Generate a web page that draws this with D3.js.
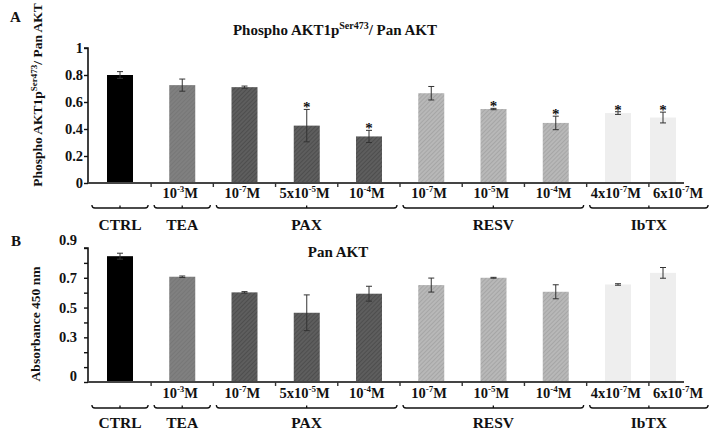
<!DOCTYPE html>
<html>
<head>
<meta charset="utf-8">
<script src="https://cdn.jsdelivr.net/npm/d3@7"></script>
<style>
  html, body { margin: 0; padding: 0; background: #fff; }
  svg text { font-family: "Liberation Serif", "Times New Roman", serif; font-weight: bold; fill: #111; }
</style>
</head>
<body>
<svg id="chart" width="724" height="438"></svg>
<script>
// ---------------- data ----------------
const categories = ["CTRL", "TEA 10-3M", "PAX 10-7M", "PAX 5x10-5M", "PAX 10-4M",
                    "RESV 10-7M", "RESV 10-5M", "RESV 10-4M", "IbTX 4x10-7M", "IbTX 6x10-7M"];
const groupOf = ["CTRL", "TEA", "PAX", "PAX", "PAX", "RESV", "RESV", "RESV", "IbTX", "IbTX"];
const groupNames = ["CTRL", "TEA", "PAX", "RESV", "IbTX"];
// dose labels: [base, superscript, suffix]
const doseLabels = [null, ["10", "-3", "M"], ["10", "-7", "M"], ["5x10", "-5", "M"], ["10", "-4", "M"],
                    ["10", "-7", "M"], ["10", "-5", "M"], ["10", "-4", "M"], ["4x10", "-7", "M"], ["6x10", "-7", "M"]];

const phosphoValues = [0.80, 0.725, 0.71, 0.425, 0.345, 0.665, 0.548, 0.445, 0.518, 0.485];
const phosphoErrors = [0.025, 0.045, 0.008, 0.12, 0.045, 0.05, 0.005, 0.05, 0.01, 0.04];
const phosphoSignif = [false, false, false, true, true, false, true, true, true, true];
const phosphoTicks = [0, 0.2, 0.4, 0.6, 0.8, 1];

const panValues = [0.845, 0.707, 0.602, 0.465, 0.593, 0.651, 0.70, 0.606, 0.655, 0.733];
const panErrors = [0.02, 0.005, 0.005, 0.12, 0.05, 0.047, 0.003, 0.047, 0.005, 0.036];
const panTickMarks = [0, 0.1, 0.2, 0.3, 0.4, 0.5, 0.6, 0.7, 0.8, 0.9];
const panTickLabels = [0, 0.3, 0.5, 0.7, 0.9];

const groupColors = { CTRL: "#000000", TEA: "#7d7d7d", PAX: "#5a5a5a", RESV: "#b3b3b3", IbTX: "#eeeeee" };

// ---------------- setup ----------------
const svg = d3.select("#chart");
const defs = svg.append("defs");

// fine hatch patterns
function hatch(id, base, line) {
  const p = defs.append("pattern").attr("id", id).attr("patternUnits", "userSpaceOnUse")
    .attr("width", 3).attr("height", 3).attr("patternTransform", "rotate(45)");
  p.append("rect").attr("width", 3).attr("height", 3).attr("fill", base);
  p.append("rect").attr("width", 1).attr("height", 3).attr("fill", line);
}
hatch("hPAX", "#5e5e5e", "#4e4e4e");
hatch("hRESV", "#b8b8b8", "#a6a6a6");
hatch("hTEA", "#808080", "#777777");
const fillFor = g => g === "PAX" ? "url(#hPAX)" : g === "RESV" ? "url(#hRESV)" : g === "TEA" ? "url(#hTEA)" : groupColors[g];

const idx = d3.range(categories.length);
// bar centers (last bar sits a little closer in the reference)
const xBar = d3.scaleLinear().domain([0, categories.length - 2, categories.length - 1]).range([120, 618, 663]);
// uniform label positions
const xLab = d3.scaleLinear().domain([0, categories.length - 1]).range([120, 680]);
const step = xLab(1) - xLab(0);
const barW = 26;
const axisX0 = 88, axisX1 = 684;

function superText(sel, parts, size) {
  sel.append("tspan").text(parts[0]);
  sel.append("tspan").attr("font-size", size * 0.62).attr("dy", -size * 0.38).text(parts[1]);
  sel.append("tspan").attr("dy", size * 0.38).text(parts[2]);
}

function panel(opts) {
  const g = svg.append("g");
  const y = opts.y;
  const y0 = y(0);

  // bars
  g.selectAll("rect.bar").data(idx).join("rect")
    .attr("x", i => xBar(i) - barW / 2)
    .attr("width", barW)
    .attr("y", i => y(opts.values[i]))
    .attr("height", i => y0 - y(opts.values[i]))
    .attr("fill", i => fillFor(groupOf[i]));

  // error bars
  const eb = g.selectAll("g.err").data(idx).join("g").attr("stroke", "#333").attr("stroke-width", 1);
  eb.append("line").attr("x1", i => xBar(i)).attr("x2", i => xBar(i))
    .attr("y1", i => y(opts.values[i] + opts.errors[i])).attr("y2", i => y(opts.values[i] - opts.errors[i]));
  eb.append("line").attr("x1", i => xBar(i) - 3).attr("x2", i => xBar(i) + 3)
    .attr("y1", i => y(opts.values[i] + opts.errors[i])).attr("y2", i => y(opts.values[i] + opts.errors[i]));
  eb.append("line").attr("x1", i => xBar(i) - 3).attr("x2", i => xBar(i) + 3)
    .attr("y1", i => y(opts.values[i] - opts.errors[i])).attr("y2", i => y(opts.values[i] - opts.errors[i]));

  // significance asterisks
  if (opts.signif) {
    g.selectAll("text.ast").data(idx.filter(i => opts.signif[i])).join("text")
      .attr("x", i => xBar(i)).attr("y", i => y(opts.values[i] + opts.errors[i]) + 3)
      .attr("text-anchor", "middle").attr("font-size", 15).text("*");
  }

  // y axis
  const ya = d3.axisLeft(y).tickValues(opts.tickMarks).tickSize(4).tickFormat("");
  const yg = g.append("g").attr("transform", `translate(${axisX0},0)`).call(ya);
  yg.select(".domain").attr("stroke", "#111").attr("stroke-width", 1.6).attr("d", `M-4,${y(opts.tickMarks[opts.tickMarks.length-1])}H0V${y0}`);
  yg.selectAll(".tick line").attr("stroke", "#111").attr("stroke-width", 1.4);
  g.selectAll("text.ytl").data(opts.tickLabels).join("text")
    .attr("x", opts.labelX).attr("y", d => y(d) + 5 + (opts.labelNudge ? opts.labelNudge(d) : 0))
    .attr("text-anchor", "end").attr("font-size", 14.5)
    .text(d => d === 0 ? "0" : d === 1 ? "1" : d3.format(".1f")(d));

  // x axis line
  g.append("line").attr("x1", axisX0).attr("x2", axisX1).attr("y1", y0).attr("y2", y0)
    .attr("stroke", "#444").attr("stroke-width", 2.2);
  // category ticks
  g.selectAll("line.ct").data(idx.slice(0, categories.length - 1)).join("line")
    .attr("x1", i => xLab(i) + step / 2).attr("x2", i => xLab(i) + step / 2)
    .attr("y1", y0).attr("y2", y0 + 4).attr("stroke", "#333").attr("stroke-width", 1.4);

  // dose labels
  g.selectAll("text.dose").data(idx.filter(i => doseLabels[i])).join("text")
    .attr("x", i => xLab(i) - 2).attr("y", y0 + opts.doseDy)
    .attr("text-anchor", "middle").attr("font-size", 14.5)
    .each(function (i) { superText(d3.select(this), doseLabels[i], 14.5); });

  // group brackets + labels
  groupNames.forEach(name => {
    const members = idx.filter(i => groupOf[i] === name);
    const a = xLab(d3.min(members)) - step / 2 + 3;
    const b = xLab(d3.max(members)) + step / 2 - 3;
    const by = y0 + opts.bracketDy;
    g.append("path").attr("d", `M${a},${by - 3}Q${a},${by} ${a + 3},${by}H${b - 3}Q${b},${by} ${b},${by - 3}M${(a + b) / 2},${by}V${by - 2.5}`)
      .attr("fill", "none").attr("stroke", "#111").attr("stroke-width", 1.3);
    g.append("text").attr("x", (xLab(d3.min(members)) + xLab(d3.max(members))) / 2)
      .attr("y", y0 + opts.groupDy).attr("text-anchor", "middle").attr("font-size", 15.5).text(name);
  });
}

// ---------------- panel A ----------------
const yA = d3.scaleLinear().domain([0, 1]).range([183, 48]);
panel({ y: yA, values: phosphoValues, errors: phosphoErrors, signif: phosphoSignif,
        tickMarks: phosphoTicks, tickLabels: phosphoTicks, labelX: 83,
        doseDy: 15, bracketDy: 25, groupDy: 47 });

// ---------------- panel B ----------------
const yB = d3.scaleLinear().domain([0, 0.9]).range([382, 248]);
panel({ y: yB, values: panValues, errors: panErrors, signif: null,
        tickMarks: panTickMarks, tickLabels: panTickLabels, labelX: 77,
        labelNudge: d => d === 0.9 ? -8 : d === 0 ? -6 : 0,
        doseDy: 16, bracketDy: 26, groupDy: 46 });

// ---------------- titles ----------------
svg.append("text").attr("x", 10).attr("y", 22).attr("font-size", 15).text("A");
svg.append("text").attr("x", 11).attr("y", 246).attr("font-size", 15).text("B");

const tA = svg.append("text").attr("x", 335).attr("y", 35).attr("text-anchor", "middle").attr("font-size", 15);
tA.append("tspan").text("Phospho AKT1p");
tA.append("tspan").attr("font-size", 10).attr("dy", -6).text("Ser473");
tA.append("tspan").attr("dy", 6).text("/ Pan AKT");

const ytA = svg.append("text").attr("transform", "translate(42,95) rotate(-90)").attr("text-anchor", "middle").attr("font-size", 13.5);
ytA.append("tspan").text("Phospho AKT1p");
ytA.append("tspan").attr("font-size", 9).attr("dy", -5).text("Ser473");
ytA.append("tspan").attr("dy", 5).text("/ Pan AKT");

svg.append("text").attr("x", 338).attr("y", 257).attr("text-anchor", "middle").attr("font-size", 15).text("Pan AKT");
svg.append("text").attr("transform", "translate(40,324) rotate(-90)").attr("text-anchor", "middle").attr("font-size", 13.5).text("Absorbance 450 nm");
</script>
</body>
</html>
